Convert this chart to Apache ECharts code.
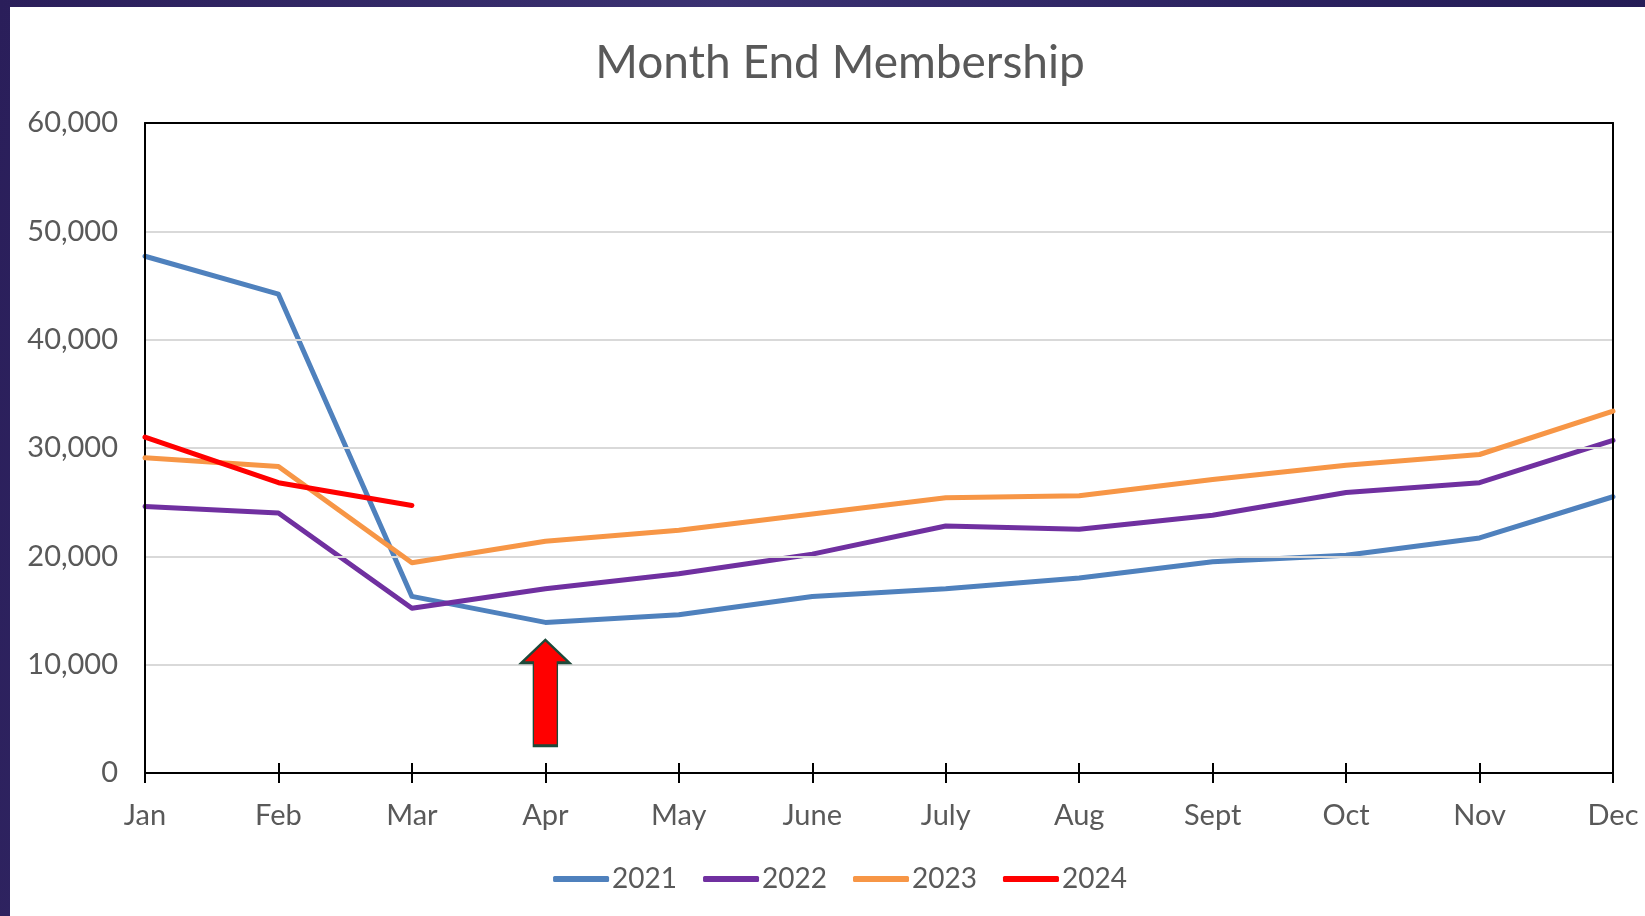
<!DOCTYPE html>
<html>
<head>
<meta charset="utf-8">
<script src="https://cdn.jsdelivr.net/npm/echarts@6/dist/echarts.min.js"></script>
<style>
  html, body { margin: 0; padding: 0; width: 1645px; height: 916px; overflow: hidden; }
  body { background: linear-gradient(100deg, #2a1e5a 0%, #3b3272 40%, #2b2260 70%, #221a52 100%); position: relative; }
  #panel { position: absolute; left: 10px; top: 7px; right: 0; bottom: 0; background: #ffffff; }
  #chart { position: absolute; left: 0; top: 0; width: 1680px; height: 916px; }
</style>
</head>
<body>
<div id="panel"></div>
<div id="chart"></div>
<script>
const months = ['Jan','Feb','Mar','Apr','May','June','July','Aug','Sept','Oct','Nov','Dec'];
const y2021 = [47700, 44200, 16300, 13900, 14600, 16300, 17000, 18000, 19500, 20100, 21700, 25500];
const y2022 = [24600, 24000, 15200, 17000, 18400, 20200, 22800, 22500, 23800, 25900, 26800, 30700];
const y2023 = [29100, 28300, 19400, 21400, 22400, 23900, 25400, 25600, 27100, 28400, 29400, 33400];
const y2024 = [31000, 26800, 24700, null, null, null, null, null, null, null, null, null];
const seriesNames = ['2021', '2022', '2023', '2024'];
const seriesColors = ['#4F81BD', '#7030A0', '#F79646', '#FF0000'];
const arrowAt = ['Apr', 7400];
const yTicks = { min: 0, max: 60000, interval: 10000 };

const FONT = 'Lato';
const TXT = '#595959';

const chart = echarts.init(document.getElementById('chart'), null, { renderer: 'canvas' });

const dataSets = [y2021, y2022, y2023, y2024];
const series = dataSets.map((d, i) => ({
  name: seriesNames[i],
  type: 'line',
  data: d,
  symbol: 'none',
  showSymbol: false,
  connectNulls: false,
  lineStyle: { width: 5, color: seriesColors[i], cap: 'round', join: 'round' },
  itemStyle: { color: seriesColors[i] },
  z: 3 + i
}));

series[0].markPoint = {
  silent: true,
  symbol: 'path://M24,0 L48,23 L36,23 L36,106 L12,106 L12,23 L0,23 Z',
  symbolSize: [48, 106],
  symbolKeepAspect: false,
  itemStyle: { color: '#FF0000', borderColor: '#1D4A3A', borderWidth: 2 },
  label: { show: false },
  data: [{ coord: arrowAt }]
};

const blackLine = { color: '#000000', width: 2 };

chart.setOption({
  animation: false,
  title: {
    text: 'Month End Membership',
    left: 'center',
    top: 35,
    textStyle: { fontFamily: FONT, fontSize: 46, fontWeight: 'normal', color: TXT }
  },
  legend: {
    data: seriesNames,
    left: 'center',
    top: 860,
    icon: 'roundRect',
    itemWidth: 56,
    itemHeight: 6,
    itemGap: 26,
    textStyle: { fontFamily: FONT, fontSize: 28, color: TXT, padding: [0, 0, 0, -2] }
  },
  grid: {
    left: 145, right: 1680 - 1613, top: 123, bottom: 916 - 773,
    show: false
  },
  xAxis: [{
    type: 'category',
    data: months,
    boundaryGap: false,
    position: 'bottom',
    axisLine: { show: true, lineStyle: blackLine },
    axisTick: { show: true, inside: false, length: 10, alignWithLabel: true, lineStyle: blackLine },
    axisLabel: { fontFamily: FONT, fontSize: 29, color: TXT, margin: 28, interval: 0 },
    splitLine: { show: false },
    z: 5
  }, {
    type: 'category',
    data: months,
    boundaryGap: false,
    position: 'bottom',
    gridIndex: 0,
    axisLine: { show: false },
    axisTick: { show: true, inside: true, length: 10, lineStyle: blackLine },
    axisLabel: { show: false },
    splitLine: { show: false },
    z: 5
  }, {
    type: 'category',
    data: months,
    boundaryGap: false,
    position: 'top',
    gridIndex: 0,
    axisLine: { show: true, lineStyle: blackLine },
    axisTick: { show: false },
    axisLabel: { show: false },
    splitLine: { show: false },
    z: 5
  }],
  yAxis: [{
    type: 'value',
    min: yTicks.min,
    max: yTicks.max,
    interval: yTicks.interval,
    axisLine: { show: true, lineStyle: blackLine },
    axisTick: { show: false },
    axisLabel: {
      fontFamily: FONT, fontSize: 29, color: TXT, margin: 27,
      formatter: v => v.toLocaleString('en-US')
    },
    splitLine: { show: true, lineStyle: { color: '#D9D9D9', width: 2 } },
    z: 5
  }, {
    type: 'value',
    position: 'right',
    min: yTicks.min,
    max: yTicks.max,
    interval: yTicks.interval,
    axisLine: { show: true, lineStyle: blackLine },
    axisTick: { show: false },
    axisLabel: { show: false },
    splitLine: { show: false },
    z: 5
  }],
  series: series
});
</script>
</body>
</html>
